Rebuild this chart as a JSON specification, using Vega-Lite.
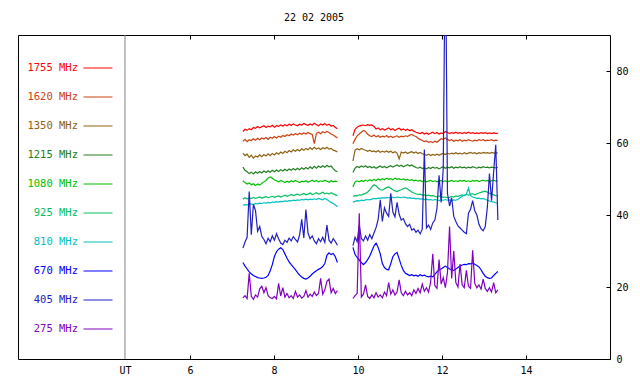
{
"$schema": "https://vega.github.io/schema/vega-lite/v6.json",
"width": 592, "height": 324,
"autosize": {"type": "none"},
"padding": {"left": 18, "top": 35, "right": 30, "bottom": 25},
"background": "white",
"title": {"text": "22 02 2005", "font": "DejaVu Sans Mono", "fontSize": 10, "fontWeight": "normal", "color": "black", "offset": 12},
"config": {
  "view": {"stroke": "black", "strokeWidth": 1},
  "axis": {"labelFont": "DejaVu Sans Mono", "labelFontSize": 10, "labelColor": "black", "tickColor": "black", "domain": false, "grid": false, "title": null}
},
"data": {"values": [
{"t":7.26,"g":1,"1755":63.2,"1620":60.5,"1350":57.2,"1215":53.3,"1080":49.5,"925":44.4,"810":42.7,"670":26.8,"405":30.8,"275":17.0},
{"t":7.31,"g":1,"1755":63.8,"1620":61.0,"1350":56.5,"1215":52.4,"1080":49.0,"925":44.8,"810":42.9,"670":25.8,"405":32.5,"275":17.6},
{"t":7.36,"g":1,"1755":63.5,"1620":60.4,"1350":56.9,"1215":52.0,"1080":48.6,"925":44.5,"810":42.8,"670":25.0,"405":33.8,"275":16.8},
{"t":7.41,"g":1,"1755":64.0,"1620":60.9,"1350":56.0,"1215":51.5,"1080":48.9,"925":44.7,"810":43.0,"670":24.2,"405":46.5,"275":23.8},
{"t":7.46,"g":1,"1755":63.7,"1620":60.7,"1350":56.6,"1215":51.9,"1080":48.4,"925":44.6,"810":43.1,"670":23.6,"405":34.5,"275":17.4},
{"t":7.51,"g":1,"1755":64.3,"1620":61.2,"1350":55.8,"1215":51.4,"1080":48.7,"925":44.9,"810":42.9,"670":23.2,"405":43.0,"275":16.6},
{"t":7.56,"g":1,"1755":64.1,"1620":60.8,"1350":56.4,"1215":52.0,"1080":48.2,"925":44.6,"810":43.2,"670":22.9,"405":41.2,"275":17.8},
{"t":7.61,"g":1,"1755":64.6,"1620":61.3,"1350":56.1,"1215":51.6,"1080":48.6,"925":44.8,"810":43.1,"670":22.6,"405":35.5,"275":17.2},
{"t":7.66,"g":1,"1755":64.2,"1620":60.9,"1350":56.7,"1215":52.1,"1080":48.3,"925":45.0,"810":43.3,"670":22.5,"405":36.8,"275":19.5},
{"t":7.71,"g":1,"1755":64.5,"1620":61.4,"1350":56.2,"1215":51.7,"1080":48.8,"925":44.7,"810":43.2,"670":22.4,"405":34.0,"275":20.2},
{"t":7.76,"g":1,"1755":64.8,"1620":61.1,"1350":56.8,"1215":52.2,"1080":49.2,"925":44.9,"810":43.4,"670":22.5,"405":33.2,"275":18.4},
{"t":7.81,"g":1,"1755":64.3,"1620":61.5,"1350":56.4,"1215":51.8,"1080":49.6,"925":45.1,"810":43.3,"670":22.7,"405":32.0,"275":19.8},
{"t":7.86,"g":1,"1755":64.7,"1620":61.0,"1350":57.0,"1215":52.3,"1080":50.3,"925":44.8,"810":43.5,"670":23.2,"405":33.5,"275":17.6},
{"t":7.91,"g":1,"1755":64.5,"1620":61.6,"1350":56.5,"1215":51.9,"1080":50.6,"925":45.0,"810":43.4,"670":24.5,"405":32.6,"275":17.0},
{"t":7.96,"g":1,"1755":64.9,"1620":61.3,"1350":57.1,"1215":52.4,"1080":50.2,"925":45.2,"810":43.6,"670":26.2,"405":34.2,"275":16.8},
{"t":8.01,"g":1,"1755":64.4,"1620":61.8,"1350":56.7,"1215":52.0,"1080":49.8,"925":44.9,"810":43.5,"670":28.5,"405":33.0,"275":17.4},
{"t":8.06,"g":1,"1755":64.8,"1620":61.4,"1350":57.3,"1215":52.5,"1080":49.5,"925":45.1,"810":43.7,"670":29.8,"405":34.8,"275":16.7},
{"t":8.11,"g":1,"1755":64.6,"1620":61.9,"1350":56.9,"1215":52.1,"1080":49.2,"925":45.3,"810":43.6,"670":30.5,"405":33.4,"275":21.0},
{"t":8.16,"g":1,"1755":65.0,"1620":61.6,"1350":57.5,"1215":52.6,"1080":49.6,"925":45.0,"810":43.8,"670":30.9,"405":32.2,"275":17.5},
{"t":8.21,"g":1,"1755":64.7,"1620":62.1,"1350":57.1,"1215":52.2,"1080":49.3,"925":45.2,"810":43.7,"670":30.4,"405":31.8,"275":19.8},
{"t":8.26,"g":1,"1755":65.1,"1620":61.8,"1350":57.7,"1215":52.7,"1080":49.0,"925":45.5,"810":43.9,"670":29.2,"405":33.0,"275":17.2},
{"t":8.31,"g":1,"1755":64.8,"1620":62.3,"1350":57.3,"1215":52.3,"1080":49.4,"925":45.2,"810":43.8,"670":28.0,"405":32.4,"275":18.2},
{"t":8.36,"g":1,"1755":65.2,"1620":62.0,"1350":57.9,"1215":52.8,"1080":49.1,"925":45.4,"810":44.0,"670":27.0,"405":33.6,"275":17.0},
{"t":8.41,"g":1,"1755":64.9,"1620":62.5,"1350":57.5,"1215":52.4,"1080":49.5,"925":45.7,"810":43.9,"670":26.2,"405":32.8,"275":17.6},
{"t":8.46,"g":1,"1755":65.3,"1620":62.2,"1350":58.1,"1215":52.9,"1080":49.2,"925":45.4,"810":44.1,"670":25.5,"405":34.0,"275":16.8},
{"t":8.51,"g":1,"1755":65.0,"1620":62.6,"1350":57.7,"1215":52.5,"1080":49.6,"925":45.6,"810":44.0,"670":24.8,"405":33.2,"275":18.8},
{"t":8.56,"g":1,"1755":64.8,"1620":62.3,"1350":58.2,"1215":53.0,"1080":49.3,"925":45.8,"810":44.2,"670":24.0,"405":32.5,"275":17.2},
{"t":8.61,"g":1,"1755":65.2,"1620":62.7,"1350":57.8,"1215":52.6,"1080":49.0,"925":45.5,"810":44.1,"670":23.3,"405":34.5,"275":17.8},
{"t":8.66,"g":1,"1755":65.0,"1620":62.4,"1350":58.4,"1215":53.1,"1080":49.4,"925":45.7,"810":44.3,"670":22.8,"405":38.8,"275":16.9},
{"t":8.71,"g":1,"1755":65.4,"1620":62.8,"1350":58.0,"1215":52.7,"1080":49.2,"925":46.0,"810":44.2,"670":22.4,"405":33.6,"275":17.4},
{"t":8.76,"g":1,"1755":65.1,"1620":62.5,"1350":58.5,"1215":53.2,"1080":49.5,"925":45.6,"810":44.4,"670":22.2,"405":41.5,"275":19.0},
{"t":8.81,"g":1,"1755":64.9,"1620":62.9,"1350":58.1,"1215":52.8,"1080":49.1,"925":45.8,"810":44.2,"670":22.5,"405":35.0,"275":17.2},
{"t":8.86,"g":1,"1755":65.3,"1620":62.6,"1350":58.7,"1215":53.4,"1080":49.4,"925":46.1,"810":44.4,"670":23.0,"405":33.4,"275":18.0},
{"t":8.91,"g":1,"1755":65.0,"1620":62.4,"1350":58.2,"1215":52.9,"1080":49.7,"925":45.7,"810":44.3,"670":23.6,"405":34.2,"275":17.4},
{"t":8.96,"g":1,"1755":65.5,"1620":59.8,"1350":58.8,"1215":53.5,"1080":49.3,"925":45.9,"810":44.5,"670":24.1,"405":32.8,"275":18.6},
{"t":9.01,"g":1,"1755":65.1,"1620":62.7,"1350":58.3,"1215":53.0,"1080":49.6,"925":46.2,"810":44.3,"670":24.5,"405":32.0,"275":17.6},
{"t":9.06,"g":1,"1755":64.8,"1620":63.0,"1350":58.6,"1215":53.6,"1080":49.2,"925":45.8,"810":44.6,"670":24.9,"405":33.4,"275":18.2},
{"t":9.11,"g":1,"1755":65.3,"1620":62.6,"1350":58.2,"1215":53.2,"1080":49.5,"925":46.0,"810":44.4,"670":25.2,"405":32.6,"275":22.4},
{"t":9.16,"g":1,"1755":65.0,"1620":63.1,"1350":58.7,"1215":53.7,"1080":49.3,"925":46.3,"810":44.2,"670":25.7,"405":33.8,"275":18.0},
{"t":9.21,"g":1,"1755":65.4,"1620":62.8,"1350":58.4,"1215":53.3,"1080":49.7,"925":45.9,"810":44.6,"670":26.5,"405":32.4,"275":19.2},
{"t":9.26,"g":1,"1755":64.9,"1620":63.2,"1350":58.8,"1215":53.8,"1080":49.4,"925":46.1,"810":44.3,"670":28.8,"405":37.2,"275":21.6},
{"t":9.31,"g":1,"1755":65.2,"1620":62.9,"1350":58.3,"1215":53.4,"1080":49.1,"925":45.8,"810":43.9,"670":29.5,"405":33.0,"275":22.2},
{"t":9.36,"g":1,"1755":64.7,"1620":62.5,"1350":58.5,"1215":53.6,"1080":49.5,"925":46.2,"810":43.5,"670":29.0,"405":32.2,"275":18.4},
{"t":9.41,"g":1,"1755":64.9,"1620":62.2,"1350":58.0,"1215":52.9,"1080":49.2,"925":45.9,"810":43.2,"670":29.3,"405":33.4,"275":19.6},
{"t":9.46,"g":1,"1755":64.3,"1620":61.8,"1350":57.8,"1215":52.3,"1080":49.4,"925":45.6,"810":42.8,"670":28.4,"405":32.6,"275":18.2},
{"t":9.51,"g":1,"1755":64.0,"1620":61.4,"1350":57.5,"1215":52.0,"1080":49.3,"925":45.4,"810":42.3,"670":26.8,"405":31.6,"275":19.0},
{"t":9.88,"g":2,"1755":62.0,"1620":59.8,"1350":55.0,"1215":51.8,"1080":47.8,"925":45.2,"810":43.5,"670":31.0,"405":31.5,"275":16.8},
{"t":9.93,"g":2,"1755":63.8,"1620":61.0,"1350":58.0,"1215":53.0,"1080":49.2,"925":45.4,"810":43.8,"670":29.0,"405":33.8,"275":17.6},
{"t":9.98,"g":2,"1755":64.4,"1620":62.0,"1350":58.4,"1215":53.5,"1080":49.5,"925":45.3,"810":44.0,"670":28.2,"405":32.6,"275":18.2},
{"t":10.03,"g":2,"1755":64.7,"1620":62.5,"1350":58.1,"1215":53.2,"1080":49.2,"925":45.6,"810":43.9,"670":27.5,"405":37.2,"275":40.5},
{"t":10.08,"g":2,"1755":64.9,"1620":63.0,"1350":58.5,"1215":53.6,"1080":49.6,"925":45.5,"810":44.1,"670":26.8,"405":33.5,"275":17.2},
{"t":10.13,"g":2,"1755":65.0,"1620":63.5,"1350":58.2,"1215":53.3,"1080":49.3,"925":45.8,"810":44.0,"670":26.2,"405":32.8,"275":18.0},
{"t":10.18,"g":2,"1755":64.8,"1620":63.2,"1350":58.0,"1215":53.7,"1080":49.7,"925":46.0,"810":44.2,"670":26.8,"405":34.2,"275":20.6},
{"t":10.23,"g":2,"1755":65.1,"1620":62.4,"1350":57.7,"1215":53.2,"1080":49.4,"925":46.4,"810":44.3,"670":27.6,"405":33.0,"275":17.4},
{"t":10.28,"g":2,"1755":64.9,"1620":62.0,"1350":58.0,"1215":53.5,"1080":49.8,"925":47.0,"810":44.2,"670":28.6,"405":34.6,"275":16.8},
{"t":10.33,"g":2,"1755":65.0,"1620":61.8,"1350":57.6,"1215":53.1,"1080":49.5,"925":47.8,"810":44.4,"670":30.0,"405":33.4,"275":17.8},
{"t":10.38,"g":2,"1755":64.6,"1620":62.2,"1350":57.8,"1215":53.4,"1080":49.9,"925":48.4,"810":44.6,"670":31.4,"405":35.0,"275":17.0},
{"t":10.43,"g":2,"1755":63.9,"1620":61.7,"1350":57.5,"1215":53.0,"1080":49.6,"925":48.1,"810":44.5,"670":32.2,"405":36.5,"275":18.4},
{"t":10.48,"g":2,"1755":64.2,"1620":62.0,"1350":57.9,"1215":53.3,"1080":50.0,"925":47.5,"810":44.7,"670":31.0,"405":38.8,"275":17.2},
{"t":10.53,"g":2,"1755":63.7,"1620":61.6,"1350":57.4,"1215":53.6,"1080":49.7,"925":47.0,"810":44.6,"670":29.2,"405":44.2,"275":17.8},
{"t":10.58,"g":2,"1755":64.0,"1620":61.9,"1350":57.7,"1215":53.2,"1080":50.1,"925":46.9,"810":44.8,"670":26.5,"405":38.2,"275":17.0},
{"t":10.63,"g":2,"1755":63.6,"1620":61.7,"1350":57.5,"1215":53.5,"1080":49.8,"925":47.3,"810":44.7,"670":25.4,"405":42.0,"275":18.6},
{"t":10.68,"g":2,"1755":63.9,"1620":62.1,"1350":57.8,"1215":53.1,"1080":50.2,"925":47.6,"810":44.9,"670":24.9,"405":40.5,"275":17.6},
{"t":10.73,"g":2,"1755":64.2,"1620":61.6,"1350":57.4,"1215":53.4,"1080":49.9,"925":47.8,"810":44.8,"670":24.8,"405":39.6,"275":21.2},
{"t":10.78,"g":2,"1755":63.7,"1620":61.9,"1350":57.7,"1215":53.7,"1080":50.1,"925":47.4,"810":45.0,"670":26.5,"405":46.0,"275":18.0},
{"t":10.83,"g":2,"1755":64.0,"1620":61.5,"1350":57.3,"1215":53.3,"1080":49.8,"925":47.0,"810":44.9,"670":28.4,"405":40.8,"275":19.2},
{"t":10.88,"g":2,"1755":63.5,"1620":61.8,"1350":57.6,"1215":53.6,"1080":50.2,"925":46.7,"810":44.8,"670":29.2,"405":39.5,"275":17.8},
{"t":10.93,"g":2,"1755":63.9,"1620":62.0,"1350":57.2,"1215":53.9,"1080":49.9,"925":46.5,"810":45.0,"670":29.6,"405":43.5,"275":18.6},
{"t":10.98,"g":2,"1755":64.1,"1620":61.6,"1350":55.6,"1215":53.5,"1080":50.1,"925":46.8,"810":44.9,"670":27.8,"405":40.2,"275":22.0},
{"t":11.03,"g":2,"1755":63.6,"1620":61.9,"1350":57.5,"1215":53.8,"1080":49.8,"925":47.0,"810":44.8,"670":26.0,"405":38.6,"275":18.4},
{"t":11.08,"g":2,"1755":63.9,"1620":61.7,"1350":57.2,"1215":53.4,"1080":50.0,"925":47.3,"810":45.0,"670":24.6,"405":39.0,"275":17.6},
{"t":11.13,"g":2,"1755":63.5,"1620":62.0,"1350":57.5,"1215":53.7,"1080":49.7,"925":47.5,"810":44.9,"670":23.8,"405":37.6,"275":18.8},
{"t":11.18,"g":2,"1755":63.8,"1620":61.8,"1350":57.1,"1215":54.0,"1080":49.9,"925":47.2,"810":44.7,"670":23.5,"405":36.8,"275":17.8},
{"t":11.23,"g":2,"1755":63.4,"1620":62.2,"1350":57.4,"1215":53.6,"1080":49.6,"925":46.8,"810":44.8,"670":23.2,"405":37.4,"275":18.4},
{"t":11.28,"g":2,"1755":63.7,"1620":62.4,"1350":57.6,"1215":53.9,"1080":49.8,"925":46.4,"810":44.6,"670":23.4,"405":35.8,"275":17.6},
{"t":11.33,"g":2,"1755":63.3,"1620":62.0,"1350":57.2,"1215":53.5,"1080":49.5,"925":46.1,"810":44.7,"670":23.1,"405":36.2,"275":19.2},
{"t":11.38,"g":2,"1755":63.0,"1620":61.8,"1350":57.5,"1215":53.2,"1080":49.7,"925":45.9,"810":44.5,"670":23.3,"405":35.2,"275":18.2},
{"t":11.43,"g":2,"1755":62.8,"1620":61.3,"1350":57.1,"1215":53.0,"1080":49.4,"925":45.7,"810":44.6,"670":23.0,"405":35.8,"275":19.6},
{"t":11.48,"g":2,"1755":62.6,"1620":61.0,"1350":57.4,"1215":53.3,"1080":49.6,"925":45.8,"810":44.4,"670":23.4,"405":34.8,"275":18.4},
{"t":11.53,"g":2,"1755":62.9,"1620":60.7,"1350":57.0,"1215":52.9,"1080":49.3,"925":45.5,"810":44.5,"670":23.1,"405":36.0,"275":20.8},
{"t":11.58,"g":2,"1755":62.5,"1620":60.4,"1350":56.8,"1215":53.1,"1080":49.5,"925":45.6,"810":44.3,"670":23.3,"405":58.2,"275":18.8},
{"t":11.63,"g":2,"1755":62.8,"1620":60.6,"1350":56.6,"1215":52.8,"1080":49.2,"925":45.4,"810":44.4,"670":23.0,"405":36.4,"275":19.8},
{"t":11.68,"g":2,"1755":62.4,"1620":60.2,"1350":56.9,"1215":53.2,"1080":49.4,"925":45.5,"810":44.2,"670":22.8,"405":37.2,"275":18.6},
{"t":11.73,"g":2,"1755":62.7,"1620":60.4,"1350":56.5,"1215":52.9,"1080":49.6,"925":45.3,"810":44.3,"670":23.0,"405":36.0,"275":21.4},
{"t":11.78,"g":2,"1755":63.0,"1620":60.1,"1350":56.8,"1215":53.3,"1080":49.3,"925":45.4,"810":44.1,"670":22.8,"405":37.8,"275":29.2},
{"t":11.83,"g":2,"1755":62.6,"1620":60.5,"1350":56.6,"1215":53.0,"1080":49.5,"925":45.2,"810":44.3,"670":23.5,"405":38.6,"275":20.4},
{"t":11.88,"g":2,"1755":62.9,"1620":60.2,"1350":56.9,"1215":53.2,"1080":49.2,"925":45.0,"810":44.2,"670":24.2,"405":41.8,"275":19.6},
{"t":11.93,"g":2,"1755":62.5,"1620":60.7,"1350":56.6,"1215":52.8,"1080":49.4,"925":45.3,"810":44.0,"670":24.8,"405":51.0,"275":27.6},
{"t":11.98,"g":2,"1755":62.8,"1620":61.2,"1350":56.9,"1215":53.1,"1080":49.6,"925":45.1,"810":44.2,"670":25.0,"405":43.5,"275":20.8},
{"t":12.03,"g":2,"1755":62.6,"1620":61.0,"1350":57.1,"1215":53.4,"1080":49.3,"925":44.9,"810":44.1,"670":25.4,"405":53.0,"275":22.6},
{"t":12.08,"g":2,"1755":63.2,"1620":61.4,"1350":56.8,"1215":53.0,"1080":49.5,"925":45.0,"810":44.3,"670":25.8,"405":120,"275":19.8},
{"t":12.13,"g":2,"1755":62.9,"1620":61.0,"1350":57.2,"1215":53.3,"1080":49.2,"925":44.8,"810":44.1,"670":25.4,"405":46.0,"275":24.0},
{"t":12.18,"g":2,"1755":62.6,"1620":60.7,"1350":56.9,"1215":53.1,"1080":49.4,"925":44.9,"810":44.2,"670":25.0,"405":42.5,"275":36.8},
{"t":12.23,"g":2,"1755":62.9,"1620":60.9,"1350":57.2,"1215":53.4,"1080":49.6,"925":45.2,"810":44.0,"670":24.8,"405":44.8,"275":22.4},
{"t":12.28,"g":2,"1755":62.7,"1620":60.5,"1350":57.0,"1215":53.0,"1080":49.3,"925":45.0,"810":44.2,"670":24.6,"405":39.6,"275":30.0},
{"t":12.33,"g":2,"1755":63.0,"1620":60.8,"1350":57.3,"1215":53.3,"1080":49.5,"925":45.3,"810":44.1,"670":25.0,"405":38.2,"275":21.2},
{"t":12.38,"g":2,"1755":62.7,"1620":60.6,"1350":57.0,"1215":53.1,"1080":49.3,"925":45.1,"810":44.4,"670":25.4,"405":37.0,"275":20.0},
{"t":12.43,"g":2,"1755":62.9,"1620":60.9,"1350":57.2,"1215":53.4,"1080":49.6,"925":45.4,"810":44.8,"670":25.8,"405":36.4,"275":26.4},
{"t":12.48,"g":2,"1755":62.6,"1620":60.5,"1350":56.9,"1215":53.1,"1080":49.4,"925":45.6,"810":45.2,"670":26.1,"405":35.8,"275":20.6},
{"t":12.53,"g":2,"1755":62.9,"1620":60.8,"1350":57.3,"1215":53.3,"1080":49.6,"925":45.4,"810":45.5,"670":26.3,"405":35.2,"275":19.8},
{"t":12.58,"g":2,"1755":62.7,"1620":60.6,"1350":57.0,"1215":53.0,"1080":49.3,"925":45.7,"810":45.8,"670":26.2,"405":34.8,"275":24.6},
{"t":12.63,"g":2,"1755":63.0,"1620":60.9,"1350":57.2,"1215":53.3,"1080":49.5,"925":45.5,"810":47.5,"670":26.5,"405":40.5,"275":20.2},
{"t":12.68,"g":2,"1755":62.7,"1620":60.7,"1350":57.4,"1215":53.1,"1080":49.3,"925":45.8,"810":45.4,"670":26.4,"405":41.6,"275":19.6},
{"t":12.73,"g":2,"1755":62.9,"1620":60.5,"1350":57.1,"1215":53.4,"1080":49.6,"925":45.9,"810":45.0,"670":26.7,"405":44.0,"275":30.2},
{"t":12.78,"g":2,"1755":62.6,"1620":60.8,"1350":57.3,"1215":53.2,"1080":49.4,"925":45.6,"810":44.8,"670":26.3,"405":41.2,"275":21.0},
{"t":12.83,"g":2,"1755":62.8,"1620":60.6,"1350":57.0,"1215":53.0,"1080":49.6,"925":45.9,"810":44.6,"670":26.0,"405":40.0,"275":19.8},
{"t":12.88,"g":2,"1755":62.6,"1620":60.9,"1350":57.3,"1215":53.3,"1080":49.3,"925":46.1,"810":44.7,"670":25.6,"405":37.4,"275":20.6},
{"t":12.93,"g":2,"1755":62.9,"1620":60.7,"1350":57.1,"1215":53.1,"1080":49.5,"925":46.3,"810":44.5,"670":24.8,"405":36.2,"275":19.4},
{"t":12.98,"g":2,"1755":62.7,"1620":60.9,"1350":57.4,"1215":53.4,"1080":49.7,"925":46.5,"810":44.6,"670":23.8,"405":35.6,"275":22.2},
{"t":13.03,"g":2,"1755":62.9,"1620":60.6,"1350":57.2,"1215":53.2,"1080":49.4,"925":46.6,"810":44.3,"670":23.0,"405":36.8,"275":19.6},
{"t":13.08,"g":2,"1755":62.6,"1620":60.8,"1350":57.3,"1215":53.3,"1080":49.6,"925":46.3,"810":44.1,"670":22.6,"405":42.2,"275":18.8},
{"t":13.13,"g":2,"1755":62.8,"1620":60.7,"1350":57.1,"1215":53.1,"1080":49.3,"925":46.0,"810":43.9,"670":22.4,"405":51.5,"275":19.8},
{"t":13.18,"g":2,"1755":62.6,"1620":60.9,"1350":57.4,"1215":53.3,"1080":49.5,"925":45.8,"810":43.7,"670":22.5,"405":44.0,"275":18.6},
{"t":13.23,"g":2,"1755":62.8,"1620":60.6,"1350":57.2,"1215":53.2,"1080":49.7,"925":45.6,"810":43.6,"670":23.2,"405":52.0,"275":21.2},
{"t":13.28,"g":2,"1755":62.7,"1620":60.8,"1350":57.3,"1215":53.1,"1080":49.4,"925":45.4,"810":43.4,"670":23.8,"405":59.5,"275":18.4},
{"t":13.33,"g":2,"1755":62.7,"1620":60.7,"1350":57.2,"1215":53.2,"1080":49.5,"925":45.3,"810":43.3,"670":24.3,"405":38.6,"275":19.2}
]},
"layer": [
  {
    "data": {"values": [{}]},
    "mark": {"type": "rule", "color": "#7f7f7f", "strokeWidth": 1},
    "encoding": {
      "x": {"datum": 4.452, "type": "quantitative",
            "axis": {"orient": "top", "values": [6, 8, 10, 12, 14], "labels": false, "tickSize": -4, "title": null, "domain": false}}
    }
  },
  {
    "transform": [{"fold": ["1755", "1620", "1350", "1215", "1080", "925", "810", "670", "405", "275"], "as": ["band", "v"]}],
    "mark": {"type": "line", "strokeWidth": 1.2, "clip": true},
    "encoding": {
      "x": {"field": "t", "type": "quantitative",
            "scale": {"domain": [1.905, 16], "nice": false, "zero": false},
            "axis": {"orient": "bottom", "values": [4.452, 6, 8, 10, 12, 14], "tickSize": -4, "labelPadding": 10,
                     "labelExpr": "datum.value < 5 ? 'UT' : format(datum.value, 'd')",
                     "tickColor": {"condition": {"test": "datum.value < 5", "value": "transparent"}, "value": "black"}}},
      "y": {"field": "v", "type": "quantitative",
            "scale": {"domain": [0, 90], "nice": false},
            "axis": {"orient": "right", "values": [0, 20, 40, 60, 80], "tickSize": -4, "labelPadding": 10}},
      "color": {"field": "band", "type": "nominal",
                "scale": {"domain": ["1755", "1620", "1350", "1215", "1080", "925", "810", "670", "405", "275"],
                          "range": ["#ff0000", "#cc4010", "#8c6010", "#208020", "#00c000", "#00c060", "#00c0c0", "#0000ff", "#2020c0", "#8000c0"]},
                "legend": {"orient": "none", "legendX": 65, "legendY": 18, "direction": "vertical", "title": null,
                           "symbolType": "stroke", "symbolSize": 841, "symbolStrokeWidth": 1,
                           "labelAlign": "right", "labelOffset": -35, "labelFont": "DejaVu Sans Mono", "labelFontSize": 10.5,
                           "rowPadding": 8, "padding": 0, "labelExpr": "datum.label + ' MHz'",
                           "encode": {"labels": {"update": {"fill": {"scale": "color", "field": "value"}}}}}},
      "detail": {"field": "g"}
    }
  }
]
}
